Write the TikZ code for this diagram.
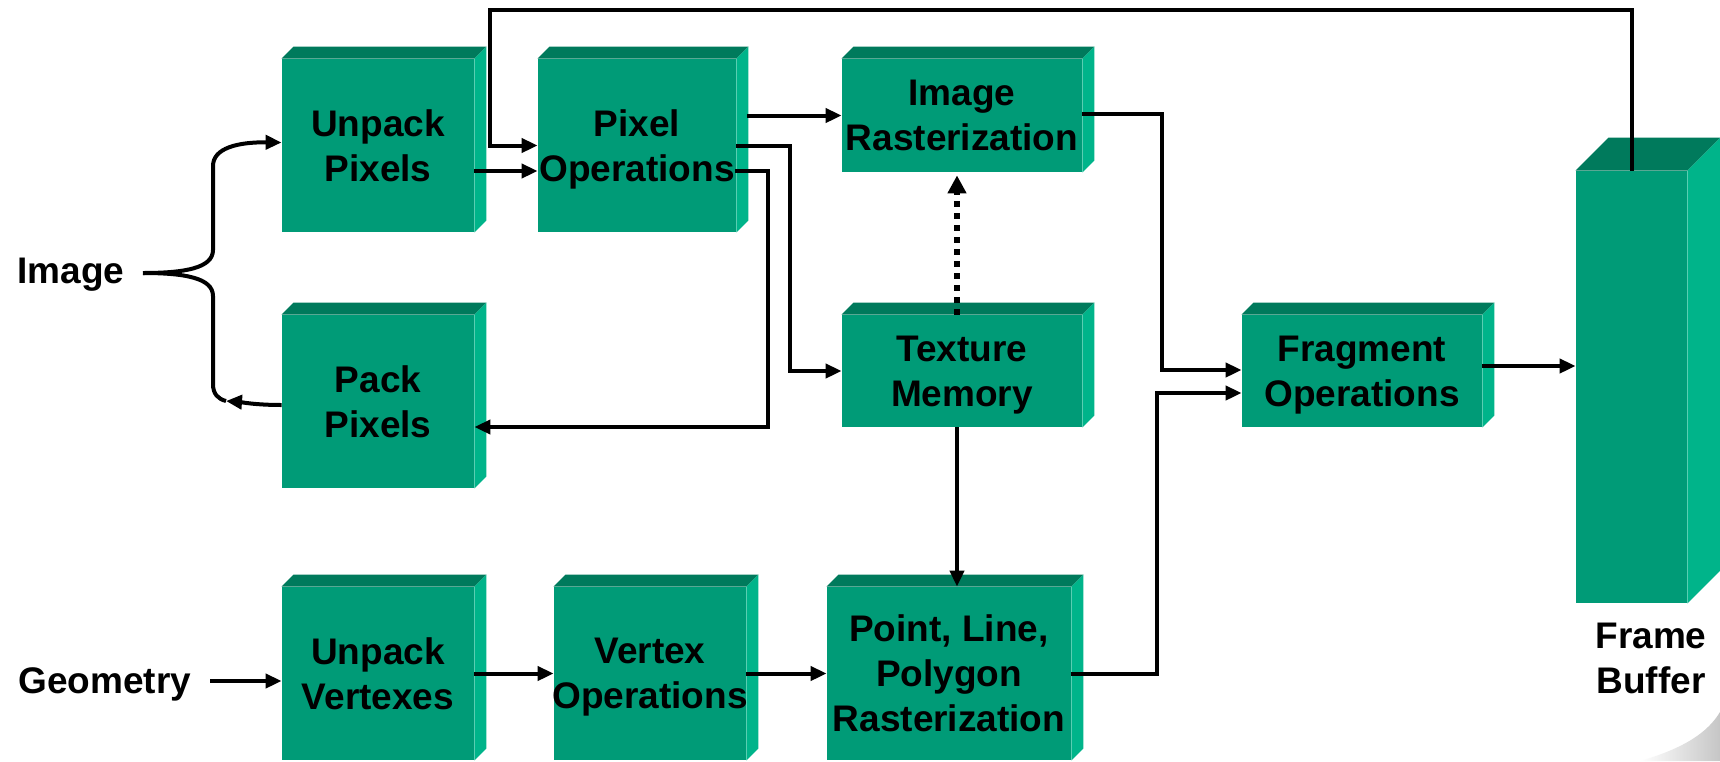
\documentclass[tikz,border=0pt]{standalone}
\usepackage{fontspec}
\setmainfont{Liberation Sans}
\usetikzlibrary{arrows.meta,calc}
\definecolor{cfront}{RGB}{0,155,119}
\definecolor{ctop}{RGB}{0,122,92}
\definecolor{cside}{RGB}{0,180,138}
% top and right faces of a block: #1 node name, #2 depth
\newcommand\cubefaces[2]{%
  \fill[ctop] (#1.north west) -- (#1.north east) -- ++(#2,-#2)
    -- ([shift={(#2,-#2)}]#1.north west) -- cycle;
  \fill[cside] (#1.north east) -- (#1.south east) -- ++(#2,-#2)
    -- ([shift={(#2,-#2)}]#1.north east) -- cycle;
}
\begin{document}
\begin{tikzpicture}[x=0.5pt,y=-0.5pt,
  lbl/.style={font=\fontsize{18.5pt}{22.5pt}\selectfont\bfseries, align=center, inner sep=0pt},
  blk/.style={lbl, fill=cfront},
  small/.style={minimum width=96pt, minimum height=86.5pt},
  wide/.style={minimum width=120pt, minimum height=56pt},
  arr/.style={line width=2pt, -{Triangle[length=8pt,width=7pt]}},
  dotarr/.style={line width=3pt, dash pattern=on 3pt off 3pt, -{Triangle[length=9pt,width=9pt]}},
  wire/.style={line width=2pt}]
\useasboundingbox (0,0) rectangle (1720,761);
\fill[white] (0,0) rectangle (1720,761);

% corner page curl
\shade[left color=white, right color=gray!45]
  (1640,761) .. controls (1685,748) and (1708,732) .. (1720,712) -- (1720,761) -- cycle;

% blocks
\node[blk, small] (up) at (378,145.5) {Unpack\\Pixels};
\node[blk, small, minimum width=99pt] (po) at (637,145.5) {};
\node[blk, minimum width=120pt, minimum height=56.5pt] (ir) at (962,115.5) {Image\\Rasterization};
\node[blk, small] (pp) at (378,401.5) {Pack\\Pixels};
\node[blk, wide] (tm) at (962,371) {};
\node[blk, wide] (fo) at (1362,371) {};
\node[blk, small] (uv) at (378,673.5) {Unpack\\Vertexes};
\node[blk, small] (vo) at (650,673.5) {};
\node[blk, small, minimum width=122pt] (pl) at (949,673.5) {Point, Line,\\Polygon\\Rasterization};
\node[fill=cfront, inner sep=0pt, minimum width=55.5pt, minimum height=216pt] (fb) at (1631.5,387) {};

\foreach \n in {up,po,ir,pp,tm,fo,uv,vo,pl} {\cubefaces{\n}{12}}
\cubefaces{fb}{33}

% captions set a little low in their blocks
\node[lbl] (pot) at ([yshift=-2.2pt]po.center) {Pixel\\Operations};
\node[lbl] (tmt) at ([yshift=-2pt]tm.center) {Texture\\Memory};
\node[lbl] (fot) at ([yshift=-2pt]fo.center) {Fragment\\Operations};
\node[lbl] (vot) at ([yshift=-2pt]vo.center) {Vertex\\Operations};

% outside labels
\node[lbl, anchor=base west] (img) at (17,283) {Image};
\node[lbl, anchor=base west] (geo) at (18,693) {Geometry};
\node[lbl] (fbl) at (1651,658) {Frame\\Buffer};

% image input / output brace
\coordinate (imgtip) at (143,273);
\coordinate (packend) at (226,401);
\draw[arr] (imgtip) .. controls (185,273) and (213,268) .. (213,250) -- (213,166)
  .. controls (213,148) and (238,142) .. ($(up.west)+(0,-3)$);
\draw[wire] (imgtip) .. controls (185,273) and (213,278) .. (213,296) -- (213,384)
  .. controls (213,394) and (218,399) .. (packend);
\draw[arr] ($(pp.west)+(0,3.5)$) .. controls (255,405) and (240,402) .. (packend);

% pixel path
\coordinate (fbk) at (490,10);
\draw[arr] (fb.north) |- (fbk) |- (po.west);
\draw[arr] ($(up.east)+(0,25.5)$) -- ($(po.west)+(0,25.5)$);
\draw[arr] ($(po.east |- ir.west)+(11,0)$) -- (ir.west);
\draw[arr] (po.east) -- ++(54,0) |- (tm.west);
\draw[arr] ($(po.east)+(-1,25.5)$) -- ++(33,0) |- ($(pp.east)+(0,25.5)$);
\draw[arr] ($(ir.east)+(0,-1.5)$) -- ++(80,0) |- ($(fo.west)+(0,-1)$);

% texture memory links
\coordinate (tmx) at ($(tm.north)+(-5,0)$);
\draw[dotarr] (tmx) -- ($(tmx |- ir.south)+(0,3)$);
\coordinate (tmb) at ($(tm.south)+(-5,0)$);
\draw[arr] (tmb) -- (tmb |- pl.north);

% geometry path
\coordinate (geoin) at (210,681);
\draw[arr] (geoin) -- (uv.west |- geoin);
\draw[arr] (uv.east) -- (vo.west);
\draw[arr] (vo.east) -- (pl.west);
\draw[arr] (pl.east) -- ++(86,0) |- ($(fo.west)+(0,22)$);

% fragments to frame buffer
\coordinate (fo1) at ($(fo.east)+(0,-5)$);
\draw[arr] (fo1) -- (fb.west |- fo1);
\end{tikzpicture}
\end{document}
